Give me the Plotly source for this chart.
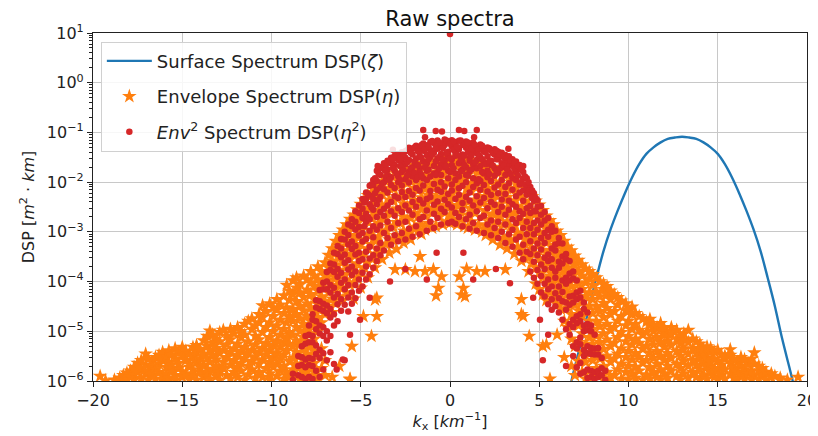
import plotly.graph_objects as go

# ---------------- data ----------------
# Surface spectrum DSP(zeta) (line)
surf_k = [6.6, 6.8, 7.0, 7.4, 7.8, 8.2, 8.6, 9.0, 9.4, 9.8, 10.2, 10.6, 11.0, 11.4, 11.8, 12.2, 12.6, 13.0,
          13.4, 13.8, 14.2, 14.6, 15.0, 15.4, 15.8, 16.2, 16.6, 17.0, 17.4, 17.8, 18.2, 18.6, 19.0, 19.2, 19.4]
surf_dsp = [5e-7, 1.0e-6, 1.95e-6, 7.3e-6, 3.2e-5, 1.18e-4, 4.1e-4, 1.13e-3, 2.7e-3, 6.0e-3, 1.24e-2, 2.3e-2,
            3.7e-2, 5.0e-2, 6.3e-2, 7.4e-2, 7.9e-2, 8.2e-2, 7.9e-2, 7.4e-2, 6.3e-2, 5.0e-2, 3.7e-2, 2.3e-2,
            1.24e-2, 6.0e-3, 2.7e-3, 1.13e-3, 4.1e-4, 1.18e-4, 3.2e-5, 7.3e-6, 1.95e-6, 1.0e-6, 5e-7]

# Envelope spectrum DSP(eta): (k, values read at that k)
env_left_tail = [
    (-19.6, (1.25e-6,)), (-19.3, (1.02e-6,)), (-18.8, (1.05e-6,)), (-18.5, (1.15e-6,)),
    (-18.3, (1.3e-6, 1.05e-6)), (-18.1, (1.1e-6, 1.45e-6)), (-17.9, (1.6e-6, 1.2e-6)),
    (-17.7, (1.05e-6, 1.35e-6, 1.9e-6)), (-17.5, (1.5e-6, 2.3e-6)), (-17.3, (1.15e-6, 1.8e-6, 2.6e-6)),
    (-17.05, (1.4e-6, 2.1e-6, 3.5e-6)), (-16.9, (1.05e-6, 1.6e-6, 2.8e-6)), (-16.7, (1.3e-6, 2e-6, 2.4e-6)),
    (-16.5, (1.1e-6, 1.7e-6, 3e-6)), (-16.3, (1.5e-6, 2.2e-6, 3.3e-6)),
    (-16.1, (1.05e-6, 1.25e-6, 2.6e-6, 3.8e-6)), (-15.9, (1.4e-6, 1.9e-6, 3.1e-6)),
    (-15.75, (1.15e-6, 2.4e-6, 4.1e-6)), (-15.6, (1.6e-6, 2.1e-6, 3.4e-6)),
    (-15.4, (1.05e-6, 1.3e-6, 2.8e-6, 4.5e-6)), (-15.2, (1.8e-6, 2.3e-6, 3.7e-6)),
    (-15.0, (1.2e-6, 1.55e-6, 3.2e-6, 4.8e-6)), (-14.8, (1.4e-6, 2.6e-6, 4e-6)),
    (-14.6, (1.08e-6, 1.9e-6, 2.2e-6, 3.5e-6)), (-14.4, (1.3e-6, 1.7e-6, 3e-6, 4.8e-6)),
    (-14.2, (1.05e-6, 2.4e-6, 3.8e-6, 5.2e-6)), (-14.0, (1.5e-6, 1.9e-6, 2.8e-6, 4.4e-6)),
    (-13.8, (1.2e-6, 2.1e-6, 3.5e-6, 6.5e-6)), (-13.6, (1.4e-6, 1.75e-6, 2.9e-6, 5e-6, 8e-6)),
    (-13.45, (1.1e-6, 2.4e-6, 4.2e-6, 1.02e-5)), (-13.3, (1.6e-6, 3.3e-6, 5.8e-6, 8.5e-6)),
    (-13.1, (1.25e-6, 2e-6, 2.7e-6, 4.6e-6, 7e-6)), (-12.9, (1.05e-6, 1.5e-6, 3.6e-6, 6.2e-6, 9.5e-6)),
    (-12.7, (1.8e-6, 2.4e-6, 4.2e-6, 1.05e-5)), (-12.5, (1.3e-6, 3e-6, 5.4e-6, 8e-6)),
    (-12.3, (1.1e-6, 2.1e-6, 3.8e-6, 6.8e-6, 1.1e-5)), (-12.1, (1.5e-6, 2.6e-6, 4.5e-6, 9e-6)),
    (-11.9, (1.2e-6, 1.9e-6, 3.3e-6, 5.6e-6, 1.2e-5)), (-11.7, (1.6e-6, 2.3e-6, 4e-6, 7.5e-6, 1e-5)),
    (-11.5, (1.05e-6, 2.9e-6, 4.8e-6, 8.5e-6, 1.4e-5)), (-11.3, (1.35e-6, 2e-6, 3.6e-6, 6.2e-6, 1.6e-5)),
    (-11.1, (1.7e-6, 2.5e-6, 4.2e-6, 1.1e-5, 1.8e-5)), (-10.9, (1.15e-6, 3.1e-6, 5.4e-6, 8e-6, 1.3e-5)),
    (-10.7, (1.5e-6, 2.2e-6, 3.8e-6, 6.8e-6, 1.5e-5, 2.2e-5)),
    (-10.5, (1.2e-6, 2.7e-6, 4.6e-6, 9.5e-6, 1.9e-5, 3.3e-5)),
    (-10.3, (1.8e-6, 3.4e-6, 5.8e-6, 1.2e-5, 2.5e-5)),
    (-10.1, (1.05e-6, 1.4e-6, 2.4e-6, 4.2e-6, 7.5e-6, 1.5e-5, 3.6e-5)),
    (-9.9, (1.9e-6, 3e-6, 5.2e-6, 1e-5, 2e-5, 3e-5)),
    (-9.7, (1.25e-6, 2.2e-6, 3.7e-6, 6.5e-6, 1.3e-5, 2.7e-5, 4.4e-5)),
    (-9.5, (1.6e-6, 2.8e-6, 4.8e-6, 8.5e-6, 1.7e-5, 3.4e-5)),
    (-9.3, (1.1e-6, 2e-6, 3.4e-6, 6e-6, 1.1e-5, 2.3e-5, 5.2e-5)),
    (-9.15, (1.5e-6, 4.2e-6, 7.5e-6, 1.5e-5, 3e-5, 8.5e-5)),
    (-9.0, (1.2e-6, 2.5e-6, 5.5e-6, 9.5e-6, 2e-5, 4.2e-5, 6.5e-5)),
]
env_left_mid = [
    (-8.8, (1.05e-6, 1.7e-6, 2.9e-6, 5e-6, 8.5e-6, 1.6e-5, 2.8e-5, 5.5e-5, 1.05e-4)),
    (-8.6, (1.3e-6, 2.2e-6, 3.8e-6, 6.5e-6, 1.2e-5, 2.2e-5, 4e-5, 7.5e-5, 1.2e-4)),
    (-8.4, (1.1e-6, 1.9e-6, 3.2e-6, 5.5e-6, 1e-5, 1.8e-5, 3.2e-5, 6e-5, 9e-5)),
    (-8.2, (1.5e-6, 2.6e-6, 4.4e-6, 7.5e-6, 1.4e-5, 2.6e-5, 4.8e-5, 1.3e-4)),
    (-8.0, (1.2e-6, 2e-6, 3.5e-6, 6e-6, 1.1e-5, 2e-5, 3.6e-5, 6.8e-5, 1.1e-4)),
    (-7.8, (1.7e-6, 2.9e-6, 5e-6, 9e-6, 1.6e-5, 3e-5, 5.5e-5, 9.5e-5, 1.6e-4)),
    (-7.6, (1.3e-6, 2.3e-6, 4e-6, 7e-6, 1.3e-5, 2.4e-5, 4.4e-5, 8e-5, 1.3e-4)),
    (-7.4, (1.1e-6, 3.2e-6, 1e-5, 1.9e-5, 3.5e-5, 6.5e-5, 1.1e-4, 2e-4)),
    (-7.2, (1.8e-6, 4.5e-6, 1.5e-5, 2.8e-5, 5e-5, 9e-5, 1.6e-4)),
    (-7.0, (1.3e-6, 2.6e-6, 2.2e-5, 4e-5, 7.5e-5, 1.3e-4, 2.4e-4)),
    (-6.8, (3.2e-5, 6e-5, 1.1e-4, 1.9e-4, 3.4e-4)),
    (-6.6, (1.2e-6, 2.4e-5, 4.5e-5, 8.5e-5, 1.5e-4, 2.6e-4, 4.6e-4)),
    (-6.4, (3.6e-5, 7e-5, 1.2e-4, 2.2e-4, 3.8e-4, 6.5e-4)),
    (-6.2, (2e-6, 5e-5, 9.5e-5, 1.7e-4, 3e-4, 5.2e-4, 8.5e-4)),
    (-6.0, (4.2e-5, 7.5e-5, 1.4e-4, 2.5e-4, 4.2e-4, 7e-4, 1.1e-3)),
    (-5.8, (6e-5, 1.1e-4, 2e-4, 3.6e-4, 6e-4, 1e-3, 1.4e-3)),
    (-5.6, (1.1e-6, 8.5e-5, 1.6e-4, 2.8e-4, 5e-4, 8.5e-4, 1.3e-3, 1.8e-3)),
]
env_center_neg = [
    (-5.4, (2.2e-3, 1.2e-3, 6.4e-4, 3.4e-4, 1.8e-4, 9.5e-5, 4.5e-5)),
    (-5.2, (2.8e-3, 1.5e-3, 8.2e-4, 4.4e-4, 2.3e-4, 1.2e-4)),
    (-5.0, (3.6e-3, 1.95e-3, 1.05e-3, 5.6e-4, 3e-4, 1.55e-4, 7.5e-5)),
    (-4.8, (4.4e-3, 2.4e-3, 1.3e-3, 7e-4, 3.7e-4, 1.9e-4)),
    (-4.6, (5.4e-3, 3e-3, 1.6e-3, 8.8e-4, 4.6e-4, 2.4e-4, 1.2e-4)),
    (-4.4, (6.2e-3, 3.4e-3, 1.9e-3, 1.05e-3, 5.6e-4, 2.9e-4)),
    (-4.2, (7.6e-3, 4.2e-3, 2.3e-3, 1.3e-3, 6.8e-4, 3.6e-4, 1.9e-4)),
    (-4.0, (8.5e-3, 4.8e-3, 2.7e-3, 1.5e-3, 8e-4, 4.2e-4)),
    (-3.8, (1e-2, 5.8e-3, 3.3e-3, 1.85e-3, 1e-3, 5.2e-4, 2.8e-4)),
    (-3.6, (1.05e-2, 6.2e-3, 3.5e-3, 2e-3, 1.05e-3, 5.6e-4)),
    (-3.4, (1.3e-2, 7.6e-3, 4.4e-3, 2.5e-3, 1.3e-3, 7e-4, 3.8e-4)),
    (-3.2, (1.25e-2, 7.4e-3, 4.2e-3, 2.4e-3, 1.25e-3, 6.8e-4)),
    (-3.0, (1.5e-2, 9e-3, 5.2e-3, 2.9e-3, 1.55e-3, 8.4e-4, 4.5e-4)),
    (-2.8, (1.5e-2, 8.6e-3, 5e-3, 2.8e-3, 1.5e-3, 8e-4)),
    (-2.6, (1.9e-2, 1.1e-2, 6.4e-3, 3.7e-3, 2e-3, 1.05e-3, 6e-4)),
    (-2.4, (1.6e-2, 9.5e-3, 5.6e-3, 3.2e-3, 1.7e-3, 9e-4)),
    (-2.2, (1.8e-2, 1.05e-2, 6.2e-3, 3.5e-3, 1.9e-3, 1e-3, 7e-4)),
    (-2.0, (2.2e-2, 1.3e-2, 7.6e-3, 4.3e-3, 2.4e-3, 1.25e-3)),
    (-1.8, (1.9e-2, 1.15e-2, 6.8e-3, 3.9e-3, 2e-3, 1.05e-3)),
    (-1.6, (2.4e-2, 1.45e-2, 8.6e-3, 4.9e-3, 2.8e-3, 1.4e-3, 9e-4)),
    (-1.4, (2.1e-2, 1.25e-2, 7.2e-3, 4e-3, 2.1e-3, 1.1e-3)),
    (-1.2, (2.7e-2, 1.6e-2, 9.8e-3, 5.4e-3, 3e-3, 1.5e-3)),
    (-1.0, (2.2e-2, 1.3e-2, 7.8e-3, 4.4e-3, 2.4e-3, 1.2e-3)),
    (-0.8, (2.5e-2, 1.5e-2, 9e-3, 5e-3, 2.7e-3, 1.3e-3)),
    (-0.6, (3e-2, 1.8e-2, 1.15e-2, 6.6e-3, 3.5e-3, 2e-3)),
    (-0.4, (2.3e-2, 1.4e-2, 8e-3, 4.8e-3, 2.6e-3, 1.4e-3)),
    (-0.2, (2.8e-2, 1.7e-2, 1e-2, 5.6e-3, 3.2e-3, 1.6e-3)),
]
env_center_pos = [
    (0.0, (3.1e-2, 1.9e-2, 1.2e-2, 6e-3, 4.2e-3, 2.2e-3, 1.5e-3)),
    (0.2, (2.5e-2, 1.5e-2, 8.5e-3, 5e-3, 2.8e-3, 1.7e-3)),
    (0.4, (2.9e-2, 2.1e-2, 1e-2, 7e-3, 3.4e-3, 1.4e-3)),
    (0.6, (2.2e-2, 1.3e-2, 9e-3, 4.6e-3, 2.5e-3, 1.8e-3)),
    (0.8, (2.7e-2, 1.7e-2, 1.1e-2, 5.5e-3, 3.6e-3, 1.3e-3)),
    (1.0, (2.4e-2, 1.4e-2, 7.5e-3, 4e-3, 2.2e-3, 1.2e-3)),
    (1.2, (2.8e-2, 1.9e-2, 9.5e-3, 6.5e-3, 3e-3, 1.6e-3)),
    (1.4, (2.1e-2, 1.2e-2, 8e-3, 4.4e-3, 2.4e-3, 1.1e-3)),
    (1.6, (2.5e-2, 1.6e-2, 1e-2, 5.2e-3, 3.3e-3, 1.4e-3)),
    (1.8, (1.9e-2, 1.1e-2, 7e-3, 3.8e-3, 2e-3, 1e-3)),
    (2.0, (2.2e-2, 1.4e-2, 8.5e-3, 5e-3, 2.7e-3, 1.3e-3, 8.5e-4)),
    (2.2, (1.8e-2, 1.05e-2, 6e-3, 3.4e-3, 1.8e-3, 1e-3)),
    (2.4, (2e-2, 1.25e-2, 7.5e-3, 4.3e-3, 2.3e-3, 1.2e-3, 7e-4)),
    (2.6, (1.6e-2, 9e-3, 5.5e-3, 3e-3, 1.6e-3, 9e-4)),
    (2.8, (1.7e-2, 1e-2, 6e-3, 3.6e-3, 2e-3, 1.05e-3, 5.5e-4)),
    (3.0, (1.4e-2, 8e-3, 4.5e-3, 2.6e-3, 1.4e-3, 7.5e-4)),
    (3.2, (1.5e-2, 8.5e-3, 5e-3, 3e-3, 1.6e-3, 8e-4, 4.6e-4)),
    (3.4, (1.2e-2, 7e-3, 4e-3, 2.3e-3, 1.2e-3, 6.5e-4)),
    (3.6, (1.2e-2, 7.5e-3, 4.2e-3, 2.4e-3, 1.3e-3, 7e-4, 3.6e-4)),
    (3.8, (1e-2, 5.8e-3, 3.2e-3, 1.8e-3, 9.5e-4, 5e-4)),
    (4.0, (9e-3, 5.2e-3, 3e-3, 1.7e-3, 9e-4, 4.8e-4, 2.6e-4)),
    (4.2, (7.5e-3, 4.2e-3, 2.4e-3, 1.3e-3, 7e-4, 3.6e-4)),
    (4.4, (6.2e-3, 3.5e-3, 2e-3, 1.1e-3, 5.8e-4, 3e-4, 1.6e-4)),
    (4.6, (5.2e-3, 2.8e-3, 1.5e-3, 8.5e-4, 4.5e-4, 2.3e-4)),
    (4.8, (4.2e-3, 2.3e-3, 1.25e-3, 7e-4, 3.7e-4, 1.9e-4, 9e-5)),
    (5.0, (3.5e-3, 1.9e-3, 1e-3, 5.5e-4, 2.9e-4, 1.5e-4, 7e-5)),
    (5.2, (2.7e-3, 1.45e-3, 8e-4, 4.3e-4, 2.3e-4, 1.2e-4, 5.5e-5)),
    (5.4, (2.1e-3, 1.15e-3, 6e-4, 3.3e-4, 1.75e-4, 9e-5, 4.2e-5)),
]
env_right_mid = [
    (5.6, (1.1e-6, 6e-5, 1.3e-4, 2.4e-4, 4.2e-4, 7.5e-4, 1.25e-3, 1.7e-3)),
    (5.8, (4.6e-5, 9.5e-5, 1.7e-4, 3e-4, 5.4e-4, 9e-4, 1.4e-3)),
    (6.0, (8.5e-6, 3.5e-5, 7e-5, 1.3e-4, 2.3e-4, 4e-4, 6.8e-4, 1.05e-3)),
    (6.2, (2.8e-5, 5.5e-5, 1e-4, 1.8e-4, 3.2e-4, 5.5e-4, 8.5e-4)),
    (6.4, (3e-6, 1.6e-5, 4e-5, 7.5e-5, 1.4e-4, 2.5e-4, 4.4e-4, 6.5e-4)),
    (6.6, (1.2e-5, 3e-5, 5.8e-5, 1.05e-4, 1.9e-4, 3.4e-4, 5e-4)),
    (6.8, (2e-6, 7e-6, 2.2e-5, 4.4e-5, 8e-5, 1.5e-4, 2.7e-4, 4.2e-4)),
    (7.0, (1.3e-6, 5e-6, 1.7e-5, 3.4e-5, 6.2e-5, 1.15e-4, 2.1e-4, 3.3e-4)),
    (7.2, (2.5e-6, 6e-6, 1.3e-5, 2.6e-5, 5e-5, 9e-5, 1.6e-4, 2.7e-4)),
    (7.4, (1.5e-6, 3.8e-6, 9e-6, 2e-5, 3.8e-5, 7e-5, 1.3e-4, 2.2e-4)),
    (7.6, (1.1e-6, 2.4e-6, 5.5e-6, 1.2e-5, 2.6e-5, 5e-5, 9.5e-5, 1.8e-4)),
    (7.8, (1.6e-6, 3.5e-6, 7.5e-6, 1.6e-5, 3.2e-5, 6e-5, 1.15e-4, 1.6e-4)),
    (8.0, (1.2e-6, 2.6e-6, 5.5e-6, 1.1e-5, 2.3e-5, 4.4e-5, 8.5e-5, 1.4e-4)),
    (8.2, (1.8e-6, 3.8e-6, 8e-6, 1.6e-5, 3.2e-5, 6.2e-5, 1.2e-4)),
    (8.4, (1.3e-6, 2.8e-6, 6e-6, 1.25e-5, 2.5e-5, 5e-5, 1e-4)),
    (8.6, (1.05e-6, 2e-6, 4.4e-6, 9e-6, 1.9e-5, 3.7e-5, 7e-5, 9e-5)),
    (8.8, (1.5e-6, 3.2e-6, 6.8e-6, 1.4e-5, 2.9e-5, 5.5e-5, 8e-5)),
    (9.0, (1.15e-6, 2.4e-6, 5e-6, 1.05e-5, 2.2e-5, 4.4e-5, 6.5e-5)),
]
env_right_tail = [
    (9.2, (1.3e-6, 2.8e-6, 5.8e-6, 1.2e-5, 2.5e-5, 5.5e-5)),
    (9.4, (1.7e-6, 3.5e-6, 7.5e-6, 1.6e-5, 3.4e-5, 4.8e-5)),
    (9.6, (1.1e-6, 2.2e-6, 4.5e-6, 9.5e-6, 2e-5, 4.1e-5)),
    (9.85, (1.5e-6, 3e-6, 6.2e-6, 1.3e-5, 2.6e-5, 3.6e-5)),
    (10.0, (1.05e-6, 2e-6, 4e-6, 8e-6, 1.6e-5, 2.7e-5)),
    (10.2, (1.4e-6, 2.7e-6, 5.4e-6, 1.1e-5, 2.2e-5, 3.1e-5)),
    (10.4, (1.15e-6, 1.9e-6, 3.6e-6, 7e-6, 1.4e-5, 2.3e-5)),
    (10.6, (1.6e-6, 3e-6, 5.8e-6, 1.05e-5, 2e-5)),
    (10.8, (1.05e-6, 2.3e-6, 4.4e-6, 8.5e-6, 1.8e-5)),
    (11.0, (1.35e-6, 2.6e-6, 5e-6, 9.5e-6, 1.55e-5)),
    (11.2, (1.1e-6, 1.9e-6, 3.7e-6, 7e-6, 1.3e-5, 1.75e-5)),
    (11.4, (1.5e-6, 2.9e-6, 5.4e-6, 1e-5, 1.35e-5)),
    (11.6, (1.2e-6, 2.2e-6, 4e-6, 7.5e-6, 1.2e-5)),
    (11.8, (1.05e-6, 1.7e-6, 3.2e-6, 6e-6, 1.1e-5, 1.45e-5)),
    (12.0, (1.4e-6, 2.6e-6, 4.8e-6, 8.5e-6, 1.15e-5)),
    (12.2, (1.15e-6, 2e-6, 3.6e-6, 6.5e-6, 9e-6)),
    (12.4, (1.6e-6, 2.9e-6, 5.2e-6, 8.8e-6, 1.2e-5)),
    (12.7, (1.25e-6, 2.2e-6, 4e-6, 7e-6, 1.05e-5)),
    (12.9, (1.05e-6, 1.8e-6, 3.2e-6, 5.6e-6, 8e-6)),
    (13.1, (1.4e-6, 2.5e-6, 4.4e-6, 6.8e-6, 9e-6)),
    (13.35, (1.15e-6, 2e-6, 3.5e-6, 6e-6, 1.05e-5)),
    (13.6, (1.5e-6, 2.6e-6, 4.5e-6, 7e-6)),
    (13.8, (1.2e-6, 2.1e-6, 3.6e-6, 6.2e-6)),
    (14.0, (1.05e-6, 1.7e-6, 2.9e-6, 4.6e-6, 5.6e-6)),
    (14.2, (1.35e-6, 2.3e-6, 3.4e-6, 4.4e-6)),
    (14.4, (1.1e-6, 1.9e-6, 2.9e-6, 4.9e-6)),
    (14.6, (1.5e-6, 2.4e-6, 3.8e-6, 4.6e-6)),
    (14.8, (1.2e-6, 1.8e-6, 2.8e-6, 3.9e-6)),
    (15.0, (1.05e-6, 1.6e-6, 2.5e-6, 4.2e-6)),
    (15.2, (1.3e-6, 2.1e-6, 3.4e-6)),
    (15.4, (1.1e-6, 1.7e-6, 2.8e-6, 3.2e-6)),
    (15.7, (1.4e-6, 2.3e-6, 3.3e-6, 4.3e-6)),
    (15.9, (1.15e-6, 1.8e-6, 2.8e-6)),
    (16.1, (1.05e-6, 1.5e-6, 2.4e-6)),
    (16.3, (1.3e-6, 2e-6, 3e-6)),
    (16.5, (1.1e-6, 1.7e-6, 2.7e-6)),
    (16.7, (1.4e-6, 2.2e-6)),
    (16.9, (1.05e-6, 1.6e-6, 2.8e-6)),
    (17.05, (1.3e-6, 2.2e-6, 3.7e-6)),
    (17.3, (1.1e-6, 1.6e-6, 2e-6)),
    (17.5, (1.3e-6, 1.8e-6)),
    (17.7, (1.05e-6, 1.5e-6)),
    (18.0, (1.2e-6, 1.4e-6)),
    (18.2, (1.25e-6,)), (18.5, (1.15e-6,)), (18.9, (1.05e-6,)), (19.5, (1.2e-6,)),
]
env_sparse = [
    (-0.78, 5.2e-5), (-0.65, 7.4e-5), (-0.47, 1.26e-4), (-0.93, 1.75e-4), (-1.4, 1.6e-4), (-1.96, 1.6e-4),
    (-1.68, 3.2e-4), (-2.5, 1.75e-4), (-3.08, 1.75e-4), (-4.1, 4.7e-5), (-4.1, 2e-5), (-4.4, 8e-6),
    (-4.85, 2e-5), (-5.5, 5e-6), (-5.6, 1.07e-6), (-4.2, 4.3e-5),
    (0.52, 1.26e-4), (0.75, 7.4e-5), (0.84, 5e-5), (0.93, 1.8e-4), (1.5, 1.6e-4), (1.96, 1.6e-4),
    (3.1, 1.75e-4), (4.0, 4.4e-5), (4.1, 2e-5), (4.44, 8e-6), (5.2, 5e-6), (4.0, 2.2e-5), (5.4, 5.4e-6),
    (0.65, 5.4e-5),
]

# Env^2 spectrum DSP(eta^2): (k, values read at that k)
env2_neg = [
    (-8.8, (1.4e-6, 1.05e-6)), (-8.5, (3.2e-6, 2e-6, 1.3e-6)), (-8.3, (5e-6, 3e-6, 2.1e-6, 1.2e-6)),
    (-8.1, (8e-6, 5.6e-6, 2.7e-6, 1.9e-6, 1.1e-6)), (-7.9, (1.3e-5, 8.5e-6, 6e-6, 2.9e-6, 2.1e-6, 1.2e-6)),
    (-7.7, (2.2e-5, 1.7e-5, 8e-6, 6e-6, 2.8e-6, 2e-6, 1.1e-6)),
    (-7.5, (4.2e-5, 3e-5, 1.6e-5, 1.1e-5, 5.2e-6, 3.5e-6, 1.6e-6)),
    (-7.3, (6.8e-5, 4e-5, 2.8e-5, 1.3e-5, 9e-6, 4.2e-6, 2.9e-6, 1.2e-6)),
    (-7.1, (9.5e-5, 7e-5, 3.6e-5, 2.6e-5, 1.2e-5, 8e-6, 3.6e-6, 1.7e-6)),
    (-6.9, (1.55e-4, 1e-4, 7e-5, 3.3e-5, 2.3e-5, 1e-5, 6.5e-6, 2.6e-6)),
    (-6.7, (2.3e-4, 1.7e-4, 8.5e-5, 6e-5, 2.8e-5, 1.9e-5, 8e-6, 3.8e-6)),
    (-6.5, (3.8e-4, 2.2e-4, 1.55e-4, 7.5e-5, 4.8e-5, 2.2e-5, 1.3e-5, 2.2e-6)),
    (-6.3, (5.2e-4, 3.6e-4, 1.8e-4, 1.25e-4, 5.6e-5, 3.5e-5, 1.6e-5)),
    (-6.1, (7.2e-4, 4.6e-4, 3.1e-4, 1.5e-4, 9.5e-5, 4.4e-5, 2.6e-5)),
    (-5.9, (1e-3, 7e-4, 3.5e-4, 2.4e-4, 1.1e-4, 7e-5, 3.4e-5)),
    (-5.7, (1.4e-3, 8.6e-4, 5.6e-4, 2.7e-4, 1.75e-4, 8.5e-5, 4.8e-5, 2.5e-5)),
    (-5.5, (1.8e-3, 1.3e-3, 6.4e-4, 4.5e-4, 2e-4, 1.35e-4, 6e-5, 3.6e-5)),
    (-5.3, (2.6e-3, 1.6e-3, 1.1e-3, 5.2e-4, 3.5e-4, 1.6e-4, 8.5e-5, 4.6e-5)),
    (-5.1, (3.4e-3, 2.4e-3, 1.25e-3, 8.4e-4, 3.8e-4, 2.6e-4, 1.1e-4, 6.5e-5)),
    (-4.9, (4.6e-3, 2.9e-3, 1.9e-3, 9.5e-4, 6.4e-4, 2.8e-4, 1.5e-4, 8e-5)),
    (-4.7, (6.2e-3, 4.6e-3, 2.3e-3, 1.6e-3, 7.2e-4, 4e-4, 2e-4, 1.1e-4)),
    (-4.5, (8.5e-3, 5.4e-3, 3.6e-3, 1.8e-3, 1.05e-3, 5e-4, 2.9e-4, 1.4e-4)),
    (-4.3, (1.1e-2, 8.8e-3, 4.6e-3, 2.8e-3, 1.3e-3, 7.8e-4, 3.4e-4, 1.9e-4)),
    (-4.1, (1.7e-2, 1.05e-2, 7e-3, 3.6e-3, 2e-3, 1.1e-3, 4.6e-4, 2.6e-4)),
    (-3.9, (2e-2, 1.4e-2, 7.8e-3, 5e-3, 2.5e-3, 1.35e-3, 6e-4, 3.4e-4)),
    (-3.7, (2.4e-2, 2e-2, 1e-2, 7.2e-3, 2.9e-3, 2.1e-3, 9.5e-4, 4.2e-4)),
    (-3.5, (2.7e-2, 1.8e-2, 1.4e-2, 6.2e-3, 3.4e-3, 1.6e-3, 7.5e-4)),
    (-3.3, (3.1e-2, 2.4e-2, 1.25e-2, 8.8e-3, 4e-3, 2.6e-3, 1.2e-3, 5.5e-4)),
    (-3.1, (3.4e-2, 2.2e-2, 1.7e-2, 7.6e-3, 5.2e-3, 2.1e-3, 8.5e-4)),
    (-2.9, (3.7e-2, 2.8e-2, 1.3e-2, 1e-2, 4.8e-3, 3e-3, 1.5e-3, 6.5e-4)),
    (-2.7, (4e-2, 2.5e-2, 1.6e-2, 8.6e-3, 6.3e-3, 2.5e-3, 9.5e-4)),
    (-2.5, (4.2e-2, 3.1e-2, 2.3e-2, 1.15e-2, 5e-3, 3.4e-3, 1.6e-3, 7e-4)),
    (-2.3, (4.9e-2, 2.8e-2, 1.6e-2, 9.8e-3, 6.6e-3, 2.7e-3, 1.15e-3)),
    (-2.1, (4.7e-2, 3.6e-2, 2e-2, 1.3e-2, 5.6e-3, 4e-3, 2.2e-3, 8e-4)),
    (-1.9, (5.4e-2, 3e-2, 2.3e-2, 1.1e-2, 7.6e-3, 3.2e-3, 1.3e-3)),
    (-1.7, (5e-2, 3.4e-2, 1.9e-2, 1.6e-2, 6.8e-3, 4.4e-3, 1.8e-3, 9e-4)),
    (-1.5, (6e-2, 4.3e-2, 2.6e-2, 1.2e-2, 8.6e-3, 3.7e-3, 2e-3)),
    (-1.3, (5.5e-2, 3.5e-2, 2.4e-2, 1.7e-2, 1.1e-2, 4.6e-3, 2.7e-3, 1.05e-3)),
    (-1.1, (6.4e-2, 4.4e-2, 3.2e-2, 1.3e-2, 6.6e-3, 5e-3, 1.6e-3)),
    (-0.9, (6.1e-2, 3.9e-2, 2.1e-2, 1.5e-2, 9.2e-3, 3.5e-3, 2.3e-3, 1.2e-3)),
    (-0.7, (6.9e-2, 4.7e-2, 3e-2, 1.6e-2, 7e-3, 4.1e-3, 1.9e-3)),
    (-0.5, (5.8e-2, 3.7e-2, 2.3e-2, 1.4e-2, 1e-2, 6.4e-3, 2.9e-3, 1.4e-3)),
    (-0.3, (7.2e-2, 5.6e-2, 2.7e-2, 2e-2, 8.2e-3, 4.4e-3, 2.5e-3)),
    (-0.1, (6.6e-2, 4.1e-2, 3.3e-2, 1.7e-2, 1.2e-2, 5.8e-3, 3.6e-3, 1.5e-3)),
]
env2_pos = [
    (0.1, (7e-2, 5.2e-2, 2.9e-2, 2.2e-2, 9e-3, 6.8e-3, 3.1e-3, 1.6e-3)),
    (0.3, (6.2e-2, 4e-2, 3.4e-2, 1.5e-2, 1.1e-2, 4.6e-3, 2.4e-3, 1.45e-3)),
    (0.5, (6.8e-2, 4.6e-2, 2.4e-2, 1.3e-2, 7.5e-3, 5.6e-3, 2e-3)),
    (0.7, (5.6e-2, 3.6e-2, 2.6e-2, 1.8e-2, 8.5e-3, 3.8e-3, 2.8e-3, 1.3e-3)),
    (0.9, (6.6e-2, 4.9e-2, 2e-2, 1.4e-2, 1e-2, 5e-3, 1.8e-3)),
    (1.1, (5.9e-2, 3.1e-2, 2.7e-2, 1.65e-2, 6.2e-3, 4.2e-3, 2.2e-3, 1.15e-3)),
    (1.3, (6.3e-2, 4.3e-2, 2.3e-2, 1.2e-2, 8e-3, 3.4e-3, 1.5e-3)),
    (1.5, (5.3e-2, 3.8e-2, 2.8e-2, 1.9e-2, 9.5e-3, 5.2e-3, 2.6e-3, 1.05e-3)),
    (1.7, (5.7e-2, 3.2e-2, 2.1e-2, 1.05e-2, 7e-3, 3.9e-3, 1.9e-3)),
    (1.9, (4.8e-2, 4.1e-2, 2.5e-2, 1.5e-2, 8.8e-3, 4.8e-3, 2.1e-3, 9.5e-4)),
    (2.1, (5e-2, 3.3e-2, 1.7e-2, 1.25e-2, 6.5e-3, 3e-3, 1.4e-3)),
    (2.3, (4.4e-2, 2.7e-2, 2.2e-2, 1.05e-2, 5.5e-3, 4e-3, 1.7e-3, 8.5e-4)),
    (2.5, (4.6e-2, 3.6e-2, 1.9e-2, 1.35e-2, 7.8e-3, 3.5e-3, 1.2e-3)),
    (2.7, (4.1e-2, 2.9e-2, 1.55e-2, 9e-3, 6e-3, 2.5e-3, 1.6e-3, 7.5e-4)),
    (2.9, (3.9e-2, 2.4e-2, 2e-2, 1.1e-2, 4.5e-3, 3.2e-3, 1e-3)),
    (3.1, (3.5e-2, 2.6e-2, 1.4e-2, 8e-3, 5.8e-3, 2.2e-3, 1.4e-3, 6e-4)),
    (3.3, (3.3e-2, 2.1e-2, 1.6e-2, 9.5e-3, 4.2e-3, 2.8e-3, 9e-4)),
    (3.5, (2.9e-2, 2.3e-2, 1.2e-2, 7e-3, 3.6e-3, 1.8e-3, 1.1e-3, 5e-4)),
    (3.7, (2.6e-2, 1.6e-2, 1.1e-2, 5.2e-3, 3.2e-3, 1.5e-3, 7e-4)),
    (3.9, (2.2e-2, 1.8e-2, 9e-3, 6.2e-3, 2.6e-3, 1.9e-3, 8e-4, 3.8e-4)),
    (4.1, (1.6e-2, 1.2e-2, 6.8e-3, 4.2e-3, 2.3e-3, 1.2e-3, 5.5e-4, 2.8e-4)),
    (4.3, (1.2e-2, 8e-3, 5.6e-3, 3e-3, 1.6e-3, 9e-4, 4e-4)),
    (4.5, (8e-3, 6e-3, 3.3e-3, 2.4e-3, 1.2e-3, 6.5e-4, 3.6e-4, 1.6e-4)),
    (4.7, (6e-3, 4.2e-3, 2.6e-3, 1.5e-3, 9e-4, 4.6e-4, 2.5e-4, 1.2e-4)),
    (4.9, (4.3e-3, 3.2e-3, 1.7e-3, 1.1e-3, 5.8e-4, 3.4e-4, 1.7e-4, 9e-5)),
    (5.1, (3.3e-3, 2.2e-3, 1.4e-3, 7.5e-4, 4.4e-4, 2.2e-4, 1.3e-4, 6e-5)),
    (5.3, (2.5e-3, 1.7e-3, 9.5e-4, 6e-4, 3e-4, 1.8e-4, 9e-5, 5e-5)),
    (5.5, (1.9e-3, 1.1e-3, 8e-4, 3.5e-4, 2.6e-4, 1.1e-4, 7e-5, 3.5e-5)),
    (5.7, (1.3e-3, 1e-3, 4.6e-4, 2.8e-4, 1.9e-4, 8e-5, 4.4e-5, 2.7e-5)),
    (5.9, (1.05e-3, 5.6e-4, 4.2e-4, 1.6e-4, 1.2e-4, 5.8e-5, 3.2e-5)),
    (6.1, (7.5e-4, 6e-4, 2.5e-4, 1.9e-4, 8e-5, 4.6e-5, 2.4e-5)),
    (6.3, (5.8e-4, 3.2e-4, 2.3e-4, 1.05e-4, 6.2e-5, 4e-5, 1.7e-5)),
    (6.5, (3.6e-4, 2.8e-4, 1.2e-4, 9e-5, 3.8e-5, 2.7e-5, 1.1e-5)),
    (6.7, (2.6e-4, 1.45e-4, 1.05e-4, 5e-5, 3.4e-5, 1.4e-5, 8.5e-6)),
    (6.9, (1.6e-4, 1.15e-4, 5.2e-5, 3.8e-5, 1.7e-5, 1.2e-5, 5e-6, 3.2e-6)),
    (7.1, (1.05e-4, 6e-5, 4.4e-5, 2e-5, 1.45e-5, 6e-6, 4.5e-6, 1.9e-6)),
    (7.3, (6.5e-5, 4.8e-5, 2.2e-5, 1.6e-5, 7.5e-6, 5.5e-6, 2.3e-6, 1.4e-6)),
    (7.5, (3.8e-5, 2.8e-5, 1.3e-5, 1e-5, 4.2e-6, 3.2e-6, 1.5e-6)),
    (7.7, (2.4e-5, 1.4e-5, 1.05e-5, 5e-6, 3.6e-6, 1.7e-6, 1.15e-6)),
    (7.9, (1.3e-5, 1e-5, 4.6e-6, 3.5e-6, 1.6e-6, 1.2e-6)),
    (8.1, (8.5e-6, 4.5e-6, 3.4e-6, 1.5e-6, 1.1e-6)),
    (8.3, (4.6e-6, 3.4e-6, 1.6e-6, 1.2e-6)),
    (8.5, (2.9e-6, 1.8e-6, 1.3e-6)),
    (8.7, (1.6e-6, 1.05e-6)),
]
# extra points in the densely filled upper part of the dome
env2_fill = [
    (-4.8, (3.9e-3, 1.3e-3)), (-4.6, (5.8e-3, 2e-3)), (-4.4, (9e-3, 3.1e-3)), (-4.2, (1.2e-2, 6e-3)),
    (-4.0, (1.5e-2, 4.4e-3)), (-3.8, (1.9e-2, 9.5e-3)), (-3.6, (2.2e-2, 1.25e-2)),
    (-3.4, (2.6e-2, 1.1e-2)), (-3.2, (2.9e-2, 1.9e-2)), (-3.0, (3.5e-2, 1.5e-2)),
    (-2.8, (3.1e-2, 2.1e-2, 1.1e-2)), (-2.6, (3.7e-2, 1.75e-2)), (-2.4, (4.4e-2, 2.5e-2, 1.35e-2)),
    (-2.2, (3.9e-2, 1.9e-2)), (-2.0, (5e-2, 2.6e-2, 1.55e-2)), (-1.8, (4.2e-2, 2.2e-2, 1.25e-2)),
    (-1.6, (5.6e-2, 3.1e-2, 1.4e-2)), (-1.4, (4.6e-2, 2e-2)), (-1.2, (5.2e-2, 2.9e-2, 1.8e-2)),
    (-1.0, (6.7e-2, 3.6e-2)), (-0.8, (5e-2, 2.6e-2, 1.4e-2)), (-0.6, (6.3e-2, 3.2e-2, 1.9e-2)),
    (-0.4, (4.8e-2, 2.9e-2)), (-0.2, (6.9e-2, 3.8e-2, 2.1e-2)),
    (0.0, (5.9e-2, 3e-2, 1.6e-2)), (0.2, (6.6e-2, 4.5e-2, 1.9e-2)), (0.4, (5.1e-2, 3.5e-2)),
    (0.6, (6.9e-2, 2.8e-2, 1.65e-2)), (0.8, (5.6e-2, 3.4e-2, 2.2e-2)), (1.0, (6.3e-2, 4e-2, 1.35e-2)),
    (1.2, (4.7e-2, 3.4e-2, 1.8e-2)), (1.4, (5.6e-2, 2.5e-2)), (1.6, (4.5e-2, 3.5e-2, 1.15e-2)),
    (1.8, (5.4e-2, 2.9e-2, 1.6e-2)), (2.0, (4.1e-2, 2.3e-2)), (2.2, (4.8e-2, 2.6e-2, 1.45e-2)),
    (2.4, (3.8e-2, 2.15e-2)), (2.6, (4.3e-2, 2.9e-2, 1.7e-2)), (2.8, (3.6e-2, 1.9e-2)),
    (3.0, (3.2e-2, 2.15e-2)), (3.2, (3.1e-2, 1.8e-2)), (3.4, (2.7e-2, 1.45e-2)),
    (3.6, (2.45e-2, 1.9e-2)), (3.8, (2.1e-2, 1.35e-2)), (4.0, (1.8e-2, 1e-2)),
    (4.2, (1.3e-2, 9e-3)), (4.4, (1e-2, 6.8e-3)), (4.6, (6.8e-3, 4.8e-3)), (4.8, (4.8e-3, 2.6e-3)),
]
env2_sparse = [
    (0.0, 9.5), (-1.5, 1.12e-1), (-0.8, 1.07e-1), (-0.45, 1.05e-1), (0.5, 1.12e-1), (0.8, 1.07e-1),
    (1.5, 1.12e-1), (1.35, 8e-2), (-1.4, 8e-2), (-3.2, 4.5e-2), (3.27, 4.7e-2), (-4.05, 2.1e-2),
    (4.1, 2.1e-2), (-3.64, 1.7e-2),
    (-1.3, 1.1e-4), (-0.75, 3.8e-4), (-3.36, 1e-4), (-2.5, 1.8e-4), (-4.5, 4.7e-5), (-5.04, 1.7e-5),
    (-5.6, 8.5e-6), (-5.9, 2.6e-6), (1.3, 1.1e-4), (3.36, 9.3e-5), (2.57, 1.8e-4), (0.75, 3.8e-4),
    (4.66, 4.7e-5), (5.04, 1.7e-5), (5.5, 8.5e-6), (5.2, 2.6e-6), (-6.35, 1.7e-6), (-6.0, 2.7e-6),
    (6.5, 2e-6),
]

ytick_vals = [1e-6, 1e-5, 1e-4, 1e-3, 1e-2, 1e-1, 1e0, 1e1]
ytick_text = ["10<sup>−6</sup>", "10<sup>−5</sup>", "10<sup>−4</sup>", "10<sup>−3</sup>",
              "10<sup>−2</sup>", "10<sup>−1</sup>", "10<sup>0</sup>", "10<sup>1</sup>"]
xtick_vals = [-20, -15, -10, -5, 0, 5, 10, 15, 20]


def flatten(col_groups, sparse):
    ks, vs = [], []
    for group in col_groups:
        for k, vals in group:
            for v in vals:
                ks.append(k)
                vs.append(v)
    for k, v in sparse:
        ks.append(k)
        vs.append(v)
    return ks, vs


env_k, env_dsp = flatten([env_left_tail, env_left_mid, env_center_neg, env_center_pos,
                          env_right_mid, env_right_tail], env_sparse)
env2_k, env2_dsp = flatten([env2_neg, env2_pos, env2_fill], env2_sparse)

FONT = "DejaVu Sans"
fig = go.Figure()
fig.add_trace(go.Scatter(
    x=surf_k, y=surf_dsp, mode="lines", line=dict(color="#1f77b4", width=2.4, shape="spline"),
    name="Surface Spectrum DSP(<i>ζ</i>)", legendgroup="a"))
fig.add_trace(go.Scatter(
    x=env_k, y=env_dsp, mode="markers",
    marker=dict(symbol="star", size=11, color="#ff7f0e", line=dict(width=0)),
    name="Envelope Spectrum DSP(<i>η</i>)", legendgroup="b"))
fig.add_trace(go.Scatter(
    x=env2_k, y=env2_dsp, mode="markers",
    marker=dict(symbol="circle", size=6.5, color="#d62728", line=dict(width=0)),
    name="<i>Env</i><sup>2</sup> Spectrum DSP(<i>η</i><sup>2</sup>)", legendgroup="c"))

axis_common = dict(showline=True, linecolor="#222", linewidth=1.2, mirror=True, automargin=False,
                   showgrid=True, gridcolor="#c8c8c8", gridwidth=1, zeroline=False,
                   ticks="outside", ticklen=5, tickcolor="#222",
                   tickfont=dict(family=FONT, size=16, color="#222"))

# the page body adds an 8 px offset, so the figure is 8 px smaller and margins compensate
fig.update_layout(
    width=810, height=428,
    margin=dict(l=85, r=11, t=25, b=55),
    paper_bgcolor="white", plot_bgcolor="white",
    font=dict(family=FONT, color="#222"),
    title=dict(text="Raw spectra", x=0.5, xref="paper", xanchor="center",
               y=0.974, yref="container", yanchor="middle", font=dict(family=FONT, size=21, color="#111")),
    showlegend=True,
    legend=dict(x=0.011, y=0.975, xanchor="left", yanchor="top", traceorder="grouped",
                tracegroupgap=9, itemwidth=45, bgcolor="rgba(255,255,255,0.85)", bordercolor="#d0d0d0",
                borderwidth=1, font=dict(family=FONT, size=18, color="#222")),
    xaxis=dict(range=[-20, 20], tickvals=xtick_vals,
               title=dict(text="<i>k</i><sub>x</sub> [<i>km</i><sup>−1</sup>]", standoff=2,
                          font=dict(family=FONT, size=16, color="#222")),
               **axis_common),
    yaxis=dict(type="log", range=[-6, 1], tickvals=ytick_vals, ticktext=ytick_text,
               title=dict(text="DSP [<i>m</i><sup>2</sup> · <i>km</i>]", standoff=8,
                          font=dict(family=FONT, size=16, color="#222")),
               minor=dict(ticks="outside", ticklen=2.5, tickcolor="#222", dtick="D1", showgrid=False),
               **axis_common),
)

fig.write_html("out.html")
